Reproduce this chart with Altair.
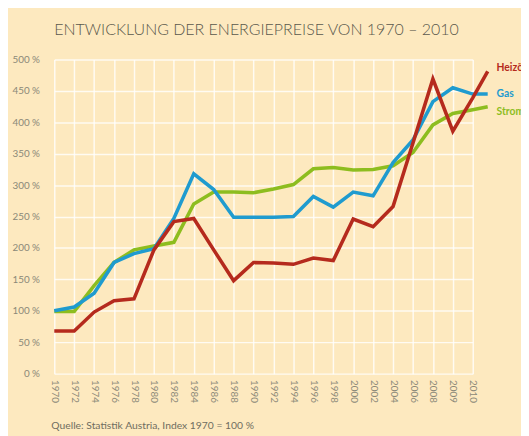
import altair as alt
import pandas as pd

# ---- data ----
years = ["1970", "1972", "1974", "1976", "1978", "1980", "1982", "1984", "1986",
         "1988", "1990", "1992", "1994", "1996", "1998", "2000", "2002", "2004",
         "2006", "2008", "2009", "2010"]
heizoel = [68, 68, 98, 116, 119, 197, 242, 247, 197, 148, 177, 176, 174, 184,
           180, 246, 234, 266, 367, 469, 386, 439]
gas = [100, 106, 128, 177, 191, 199, 247, 318, 293, 249, 249, 249, 250, 282,
       265, 289, 283, 336, 372, 433, 455, 445]
strom = [99, 99, 140, 177, 197, 203, 209, 270, 289, 289, 288, 294, 301, 326,
         328, 324, 325, 331, 352, 396, 414, 420]
# the lines run on a little past the 2010 grid line, towards their labels
series_names = ["Strom", "Gas", "Heizöl"]
series_values = [strom, gas, heizoel]
end_values = [425, 445, 481]
end_step = 0.75

title_text = "ENTWICKLUNG DER ENERGIEPREISE VON 1970 – 2010"
source_text = "Quelle: Statistik Austria, Index 1970 = 100 %"

colors = {"Heizöl": "#b52a1d", "Gas": "#1f9bcf", "Strom": "#8dbd1f"}
label_dy = {"Heizöl": -3, "Gas": 0, "Strom": 5}

BG = "#fde9bf"
FONT = "Lato"

rows = []
for name, vals, end in zip(series_names, series_values, end_values):
    for i, v in enumerate(vals):
        rows.append({"pos": i, "wert": v, "serie": name})
    rows.append({"pos": len(years) - 1 + end_step, "wert": end, "serie": name})
df = pd.DataFrame(rows)

label_expr = "[" + ",".join("'%s'" % y for y in years) + "][datum.value]"

x_enc = alt.X(
    "pos:Q",
    scale=alt.Scale(domain=[0, len(years) - 1], nice=False, zero=False),
    axis=alt.Axis(values=list(range(len(years))), labelExpr=label_expr,
                  labelAngle=90, labelPadding=6, labelOverlap=False,
                  labelBound=False, labelSeparation=0, title=None),
)
y_enc = alt.Y(
    "wert:Q",
    scale=alt.Scale(domain=[0, 500], nice=False),
    axis=alt.Axis(values=list(range(0, 501, 50)), labelExpr="datum.value + ' %'",
                  labelPadding=15, labelOverlap=False, title=None),
)

layers = []
for name in series_names:
    sub = df[df.serie == name]
    line = alt.Chart(sub).mark_line(
        strokeWidth=3.6, color=colors[name], strokeJoin="miter", clip=False
    ).encode(x=x_enc, y=y_enc)
    layers.append(line)

for name in series_names:
    sub = df[df.serie == name]
    last = sub[sub.pos == sub.pos.max()]
    lab = alt.Chart(last).mark_text(
        align="left", baseline="middle", dx=9, dy=label_dy[name],
        font=FONT, fontSize=10.5, fontWeight="bold", color=colors[name], clip=False
    ).encode(x=x_enc, y=y_enc, text=alt.value(name))
    layers.append(lab)

src = alt.Chart(pd.DataFrame({"t": [source_text]})).mark_text(
    align="left", baseline="alphabetic", font=FONT, fontSize=10.5,
    color="#6f6d60"
).encode(x=alt.value(-3), y=alt.value(375), text="t:N")
layers.append(src)

ttl = alt.Chart(pd.DataFrame({"t": [title_text]})).mark_text(
    align="left", baseline="alphabetic", font=FONT, fontSize=16.2,
    fontWeight=300, color="#5a584c"
).encode(x=alt.value(0), y=alt.value(-25), text="t:N")
layers.append(ttl)

chart = alt.layer(*layers).properties(
    width=425,
    height=319,
    autosize=alt.AutoSizeParams(type="none"),
    padding={"left": 47, "top": 49, "right": 49, "bottom": 60},
    background=BG,
).configure_view(stroke=None, fill=BG).configure_axis(
    domain=False, ticks=False, tickSize=0, gridColor="#ffffff", gridWidth=1.5,
    gridOpacity=0.8, labelFont=FONT, labelFontSize=10, labelColor="#8a8878",
).configure_axisX(labelOverlap=False, labelSeparation=0)

chart.save("out.html", embed_options={"renderer": "svg", "actions": False})
